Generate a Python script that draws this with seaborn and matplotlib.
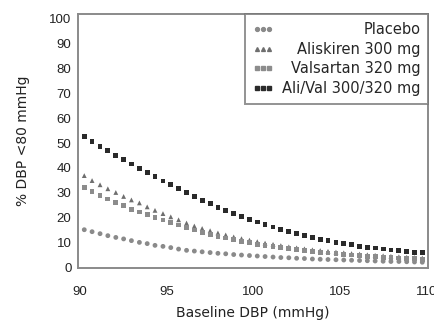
import numpy as np
import pandas as pd
import seaborn as sns
import matplotlib
matplotlib.use("Agg")
import matplotlib.pyplot as plt
from matplotlib.lines import Line2D

baseline = [90.25, 90.70, 91.16, 91.61, 92.07, 92.52, 92.97, 93.43, 93.88, 94.33,
            94.79, 95.24, 95.69, 96.15, 96.60, 97.05, 97.51, 97.96, 98.41, 98.87,
            99.32, 99.78, 100.23, 100.68, 101.14, 101.59, 102.05, 102.50, 102.95, 103.41,
            103.86, 104.31, 104.77, 105.22, 105.67, 106.13, 106.58, 107.03, 107.49, 107.94,
            108.40, 108.85, 109.30, 109.75]

placebo = [15.1, 14.3, 13.5, 12.7, 12.0, 11.4, 10.7, 10.0, 9.5, 8.8,
           8.4, 7.9, 7.3, 6.8, 6.5, 6.2, 5.9, 5.6, 5.4, 5.1,
           4.9, 4.7, 4.5, 4.3, 4.1, 3.9, 3.8, 3.6, 3.5, 3.3,
           3.2, 3.1, 3.0, 2.9, 2.8, 2.7, 2.6, 2.5, 2.4, 2.3,
           2.3, 2.2, 2.1, 2.0]
aliskiren = [36.9, 34.9, 33.2, 31.6, 30.1, 28.5, 27.1, 25.9, 24.3, 22.9,
             21.6, 20.3, 19.1, 17.8, 16.6, 15.6, 14.7, 13.8, 13.0, 12.2,
             11.5, 10.9, 10.3, 9.7, 9.2, 8.7, 8.2, 7.8, 7.4, 7.0,
             6.7, 6.4, 6.1, 5.8, 5.5, 5.3, 5.0, 4.8, 4.6, 4.4,
             4.2, 4.0, 3.9, 3.7]
valsartan = [32.2, 30.5, 28.9, 27.5, 26.1, 24.8, 23.4, 22.2, 21.2, 20.1,
             19.0, 17.9, 17.0, 15.9, 15.0, 14.1, 13.3, 12.5, 11.8, 11.1,
             10.4, 9.8, 9.2, 8.7, 8.2, 7.8, 7.4, 7.0, 6.6, 6.3,
             6.0, 5.7, 5.4, 5.1, 4.9, 4.7, 4.4, 4.2, 4.0, 3.9,
             3.7, 3.5, 3.4, 3.2]
alival = [52.7, 50.7, 48.7, 47.0, 45.1, 43.4, 41.6, 39.9, 38.0, 36.4,
          34.7, 33.2, 31.6, 30.0, 28.4, 27.0, 25.6, 24.2, 22.9, 21.7,
          20.5, 19.3, 18.2, 17.1, 16.2, 15.3, 14.4, 13.6, 12.8, 12.0,
          11.3, 10.7, 10.1, 9.5, 9.0, 8.5, 8.1, 7.7, 7.3, 6.9,
          6.6, 6.3, 6.0, 5.8]

labels = ["Placebo", "Aliskiren 300 mg", "Valsartan 320 mg", "Ali/Val 300/320 mg"]
series = [placebo, aliskiren, valsartan, alival]
x_ticks = [90, 95, 100, 105, 110]
y_ticks = [0, 10, 20, 30, 40, 50, 60, 70, 80, 90, 100]

df = pd.concat([pd.DataFrame({"Baseline DBP (mmHg)": baseline, "pct": s, "Treatment": lab})
                for s, lab in zip(series, labels)], ignore_index=True)

sns.set_theme(style="white")
plt.rcParams["font.family"] = ["DejaVu Sans"]

fig = plt.figure(figsize=(4.34, 3.25), dpi=100)
ax = fig.add_axes([0.179, 0.174, 0.808, 0.783])

palette = {"Placebo": "#8a8a8a", "Aliskiren 300 mg": "#6e6e6e",
           "Valsartan 320 mg": "#8c8c8c", "Ali/Val 300/320 mg": "#2a2a2a"}
markers = {"Placebo": "o", "Aliskiren 300 mg": "^",
           "Valsartan 320 mg": "s", "Ali/Val 300/320 mg": "s"}
sns.scatterplot(data=df, x="Baseline DBP (mmHg)", y="pct", hue="Treatment",
                style="Treatment", palette=palette, markers=markers,
                s=12, linewidth=0, ax=ax, legend=False)

ax.set_xlim(89.87, 110.1)
ax.set_ylim(-0.5, 102)
ax.set_xticks(x_ticks)
ax.set_yticks(y_ticks)
tick_font = {"family": ["Liberation Sans", "DejaVu Sans"], "size": 9.5}
ax.set_xticklabels([str(v) for v in x_ticks], fontdict=tick_font)
ax.set_yticklabels([str(v) for v in y_ticks], fontdict=tick_font)
ax.tick_params(axis="x", length=2.5, width=0.8, color="#888888", pad=10,
               direction="out", labelcolor="#222222")
ax.tick_params(axis="y", length=2.5, width=0.8, color="#888888", pad=2,
               direction="out", labelcolor="#222222")
ax.set_xlabel("Baseline DBP (mmHg)", fontsize=10, color="#222222", labelpad=6)
ax.set_ylabel("% DBP <80 mmHg", fontsize=10, color="#222222", labelpad=14)
for sp in ax.spines.values():
    sp.set_color("#8a8a8a")
    sp.set_linewidth(1.4)

handles = [Line2D([], [], linestyle="none", marker=markers[l], color=palette[l],
                  markersize=2.8) for l in labels]
leg = ax.legend(handles, labels, loc="upper right", bbox_to_anchor=(1.0, 1.0),
                borderaxespad=0.0, numpoints=3, fontsize=10.5, frameon=True,
                fancybox=False, edgecolor="#777777", handlelength=1.4,
                handletextpad=0.6, labelspacing=0.32, borderpad=0.55)
leg.get_frame().set_linewidth(1.4)

fig.canvas.draw()
renderer = fig.canvas.get_renderer()
widths = [t.get_window_extent(renderer).width for t in leg.get_texts()]
shift = max(widths)
for t, w in zip(leg.get_texts(), widths):
    t.set_ha("right")
    t.set_position((shift - w, 0))

fig.savefig("out.png", dpi=100)
